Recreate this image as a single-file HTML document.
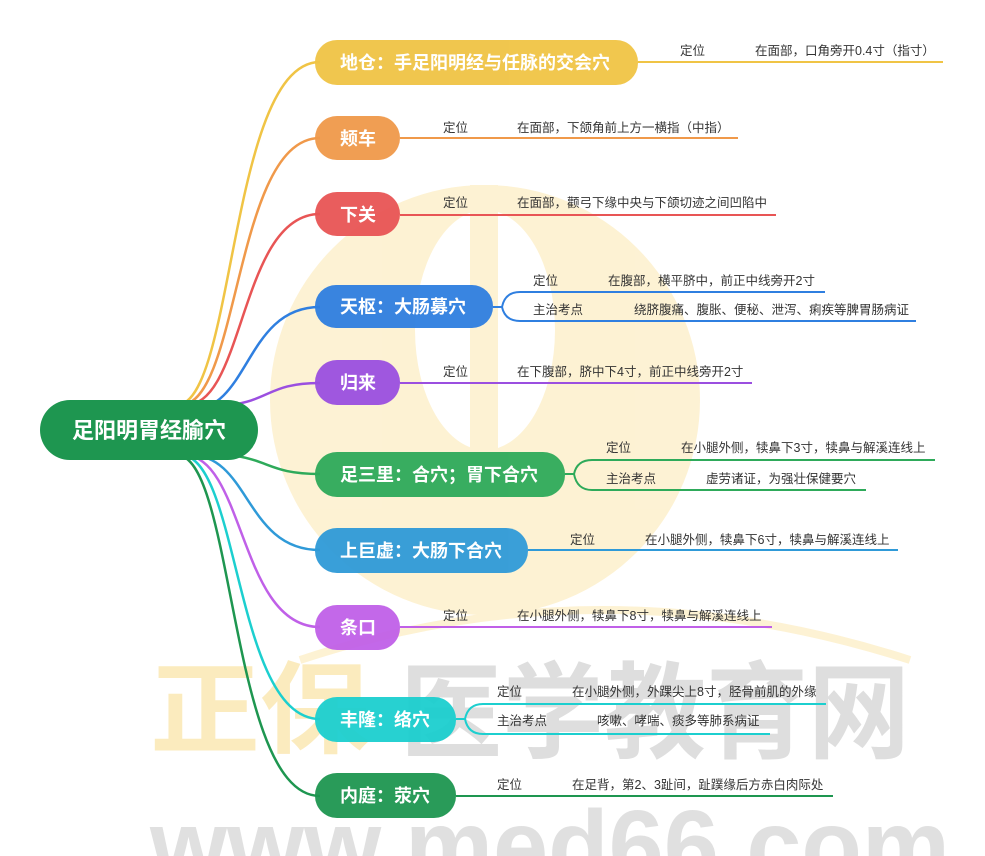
<!DOCTYPE html>
<html><head><meta charset="utf-8"><style>
body{margin:0;background:#fff;overflow:hidden;}
svg{display:block;font-family:"Liberation Sans","Noto Sans CJK SC",sans-serif;}
.p{fill:#fff;font-weight:bold;font-size:18px;}
.s{fill:#333;font-size:12.5px;}
</style></head><body>
<svg width="985" height="856" viewBox="0 0 985 856">
<g opacity="0.9">
<circle cx="485" cy="400" r="215" fill="#fdf1cf"/>
<ellipse cx="485" cy="330" rx="70" ry="120" fill="#fff"/>
<rect x="470" y="185" width="28" height="300" fill="#fdf1cf"/>
<path d="M300 660 Q600 560 910 660" stroke="#fdf1cf" stroke-width="8" fill="none"/>
<text x="150" y="745" font-size="100" font-weight="bold" fill="#fbe9b8" textLength="220" lengthAdjust="spacingAndGlyphs">正保</text>
<text x="400" y="750" font-size="105" font-weight="bold" fill="#d4d4d4" opacity="0.85" textLength="510" lengthAdjust="spacingAndGlyphs">医学教育网</text>
<text x="150" y="880" font-size="100" font-weight="bold" fill="#d8d8d8" opacity="0.85" textLength="800" lengthAdjust="spacingAndGlyphs">www.med66.com</text>
</g>
<g fill="none" stroke-width="2.5">
<path d="M178 405 C235 400,230 62,320 62" stroke="#f0c445"/>
<path d="M182 405 C240 400,235 138,320 138" stroke="#f0994a"/>
<path d="M186 405 C245 405,240 214,320 214" stroke="#e85555"/>
<path d="M190 410 C250 410,245 307,320 307" stroke="#2f7fe0"/>
<path d="M230 405 C270 400,270 383,320 383" stroke="#9b4fe0"/>
<path d="M230 455 C270 460,270 474,320 474" stroke="#2eaa5a"/>
<path d="M190 455 C250 455,245 550,320 550" stroke="#2f9ad8"/>
<path d="M186 455 C245 460,240 627,320 627" stroke="#c060e8"/>
<path d="M182 455 C240 460,235 719,320 719" stroke="#1ccfcf"/>
<path d="M178 455 C235 460,230 796,320 796" stroke="#1e9650"/>
</g>
<rect x="40" y="400" width="218" height="60" rx="30" fill="#1e9650"/>
<text x="149" y="438" text-anchor="middle" fill="#fff" font-weight="bold" font-size="22">足阳明胃经腧穴</text>
<g fill="none" stroke-width="2">
<path d="M638 62 H943" stroke="#f0c445"/>
<path d="M400 138 H738" stroke="#f0994a"/>
<path d="M400 215 H776" stroke="#e85555"/>
<path d="M493 307 H502 Q505 292 520 292 H825 M502 307 Q505 321 520 321 H916" stroke="#2f7fe0"/>
<path d="M400 383 H752" stroke="#9b4fe0"/>
<path d="M565 474 H574 Q577 460 592 460 H935 M574 474 Q577 490 592 490 H866" stroke="#2eaa5a"/>
<path d="M528 550 H898" stroke="#2f9ad8"/>
<path d="M400 627 H772" stroke="#c060e8"/>
<path d="M456 719 H465 Q468 704 483 704 H826 M465 719 Q468 734 483 734 H770" stroke="#1ccfcf"/>
<path d="M456 796 H833" stroke="#1e9650"/>
</g>
<g opacity="0.95">
<rect x="315" y="40" width="323" height="45" rx="22" fill="#f0c445"/>
<rect x="315" y="116" width="85" height="44" rx="22" fill="#f0994a"/>
<rect x="315" y="192" width="85" height="44" rx="22" fill="#e85555"/>
<rect x="315" y="285" width="178" height="43" rx="21" fill="#2f7fe0"/>
<rect x="315" y="360" width="85" height="45" rx="22" fill="#9b4fe0"/>
<rect x="315" y="452" width="250" height="45" rx="22" fill="#2eaa5a"/>
<rect x="315" y="528" width="213" height="45" rx="22" fill="#2f9ad8"/>
<rect x="315" y="605" width="85" height="45" rx="22" fill="#c060e8"/>
<rect x="315" y="697" width="141" height="45" rx="22" fill="#1ccfcf"/>
<rect x="315" y="773" width="141" height="45" rx="22" fill="#1e9650"/>
</g>
<text class="p" x="340" y="69">地仓：手足阳明经与任脉的交会穴</text>
<text class="p" x="340" y="145">颊车</text>
<text class="p" x="340" y="221">下关</text>
<text class="p" x="340" y="313">天枢：大肠募穴</text>
<text class="p" x="340" y="389">归来</text>
<text class="p" x="340" y="481">足三里：合穴；胃下合穴</text>
<text class="p" x="340" y="557">上巨虚：大肠下合穴</text>
<text class="p" x="340" y="634">条口</text>
<text class="p" x="340" y="726">丰隆：络穴</text>
<text class="p" x="340" y="802">内庭：荥穴</text>
<text class="s" x="680" y="55">定位</text><text class="s" x="755" y="55">在面部，口角旁开0.4寸（指寸）</text>
<text class="s" x="443" y="132">定位</text><text class="s" x="517" y="132">在面部，下颌角前上方一横指（中指）</text>
<text class="s" x="443" y="207">定位</text><text class="s" x="517" y="207">在面部，颧弓下缘中央与下颌切迹之间凹陷中</text>
<text class="s" x="533" y="285">定位</text><text class="s" x="608" y="285">在腹部，横平脐中，前正中线旁开2寸</text>
<text class="s" x="533" y="314">主治考点</text><text class="s" x="634" y="314">绕脐腹痛、腹胀、便秘、泄泻、痢疾等脾胃肠病证</text>
<text class="s" x="443" y="376">定位</text><text class="s" x="517" y="376">在下腹部，脐中下4寸，前正中线旁开2寸</text>
<text class="s" x="606" y="452">定位</text><text class="s" x="681" y="452">在小腿外侧，犊鼻下3寸，犊鼻与解溪连线上</text>
<text class="s" x="606" y="483">主治考点</text><text class="s" x="706" y="483">虚劳诸证，为强壮保健要穴</text>
<text class="s" x="570" y="544">定位</text><text class="s" x="645" y="544">在小腿外侧，犊鼻下6寸，犊鼻与解溪连线上</text>
<text class="s" x="443" y="620">定位</text><text class="s" x="517" y="620">在小腿外侧，犊鼻下8寸，犊鼻与解溪连线上</text>
<text class="s" x="497" y="696">定位</text><text class="s" x="572" y="696">在小腿外侧，外踝尖上8寸，胫骨前肌的外缘</text>
<text class="s" x="497" y="725">主治考点</text><text class="s" x="597" y="725">咳嗽、哮喘、痰多等肺系病证</text>
<text class="s" x="497" y="789">定位</text><text class="s" x="572" y="789">在足背，第2、3趾间，趾蹼缘后方赤白肉际处</text>
</svg>
</body></html>
